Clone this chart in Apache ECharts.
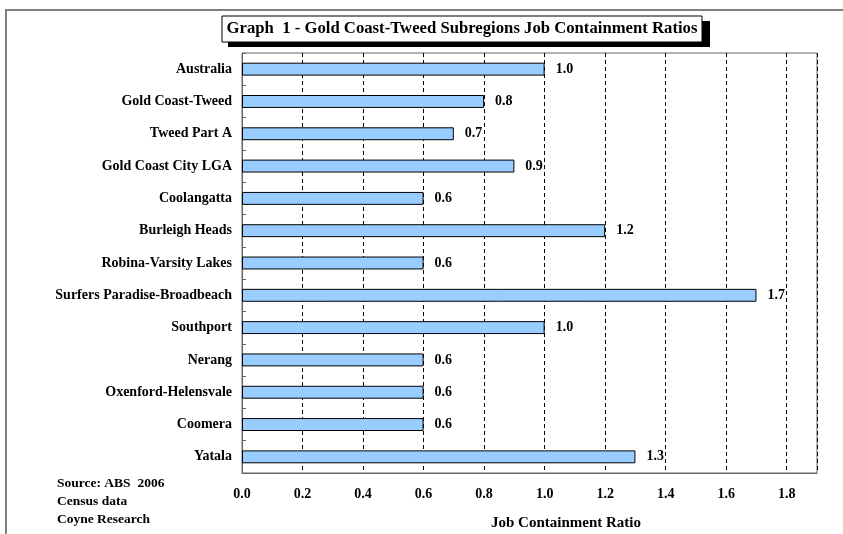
<!DOCTYPE html>
<html><head><meta charset="utf-8">
<script src="https://cdn.jsdelivr.net/npm/echarts@6/dist/echarts.min.js"></script>
<style>html,body{margin:0;padding:0;background:#fff}#c{width:843px;height:534px}</style>
</head><body><div id="c"></div>
<script>
const categories = ["Australia","Gold Coast-Tweed","Tweed Part A","Gold Coast City LGA","Coolangatta","Burleigh Heads","Robina-Varsity Lakes","Surfers Paradise-Broadbeach","Southport","Nerang","Oxenford-Helensvale","Coomera","Yatala"];
const ratios = [1.0,0.8,0.7,0.9,0.6,1.2,0.6,1.7,1.0,0.6,0.6,0.6,1.3];
const titleText = "Graph  1 - Gold Coast-Tweed Subregions Job Containment Ratios";
const sourceLines = ["Source: ABS  2006","Census data","Coyne Research"];
const xAxisName = "Job Containment Ratio";

const FONT = '"Liberation Serif","Times New Roman",serif';
const chart = echarts.init(document.getElementById('c'));
chart.setOption({
  animation:false,
  backgroundColor:'#fff',
  grid:{left:242,right:26,top:53,bottom:61,show:true,borderColor:'#666',borderWidth:1,backgroundColor:'transparent'},
  xAxis:{type:'value',min:0,max:1.9,interval:0.2,
    axisLine:{show:true,lineStyle:{color:'#666'}},
    axisTick:{show:false},
    splitLine:{show:true,lineStyle:{color:'#000',type:[4,3],width:1}},
    axisLabel:{showMaxLabel:false,formatter:v=>v.toFixed(1),color:'#000',fontFamily:FONT,fontWeight:'bold',fontSize:14,margin:14}
  },
  yAxis:{type:'category',data:categories,inverse:true,
    axisLine:{show:true,lineStyle:{color:'#666'}},
    axisTick:{show:true,inside:true,length:4,alignWithLabel:false,lineStyle:{color:'#666'}},
    axisLabel:{color:'#000',fontFamily:FONT,fontWeight:'bold',fontSize:14,margin:10}
  },
  series:[{type:'bar',data:ratios,barWidth:'40%',
    itemStyle:{color:'#99CCFF',borderColor:'#000',borderWidth:1},
    label:{show:true,position:'right',distance:11,formatter:p=>p.value.toFixed(1),color:'#000',fontFamily:FONT,fontWeight:'bold',fontSize:14}
  }],
  graphic:[
    {type:'rect',shape:{x:6,y:10,width:900,height:600},style:{fill:'none',stroke:'#808080',lineWidth:2},z:-1},
    {type:'rect',shape:{x:228,y:21,width:482,height:26},style:{fill:'#000'},z:10},
    {type:'rect',shape:{x:222,y:16,width:480,height:26},style:{fill:'#fff',stroke:'#000',lineWidth:1},z:11},
    {type:'text',x:462,y:29,style:{text:titleText,fill:'#000',font:'bold 16.7px '+FONT,align:'center',verticalAlign:'middle'},z:12},
    {type:'text',x:566,y:523,style:{text:xAxisName,fill:'#000',font:'bold 15px '+FONT,align:'center',verticalAlign:'middle'}},
    {type:'text',x:57,y:484,style:{text:sourceLines[0],fill:'#000',font:'bold 13.5px '+FONT,verticalAlign:'middle'}},
    {type:'text',x:57,y:502,style:{text:sourceLines[1],fill:'#000',font:'bold 13.5px '+FONT,verticalAlign:'middle'}},
    {type:'text',x:57,y:520,style:{text:sourceLines[2],fill:'#000',font:'bold 13.5px '+FONT,verticalAlign:'middle'}}
  ]
});
</script></body></html>
